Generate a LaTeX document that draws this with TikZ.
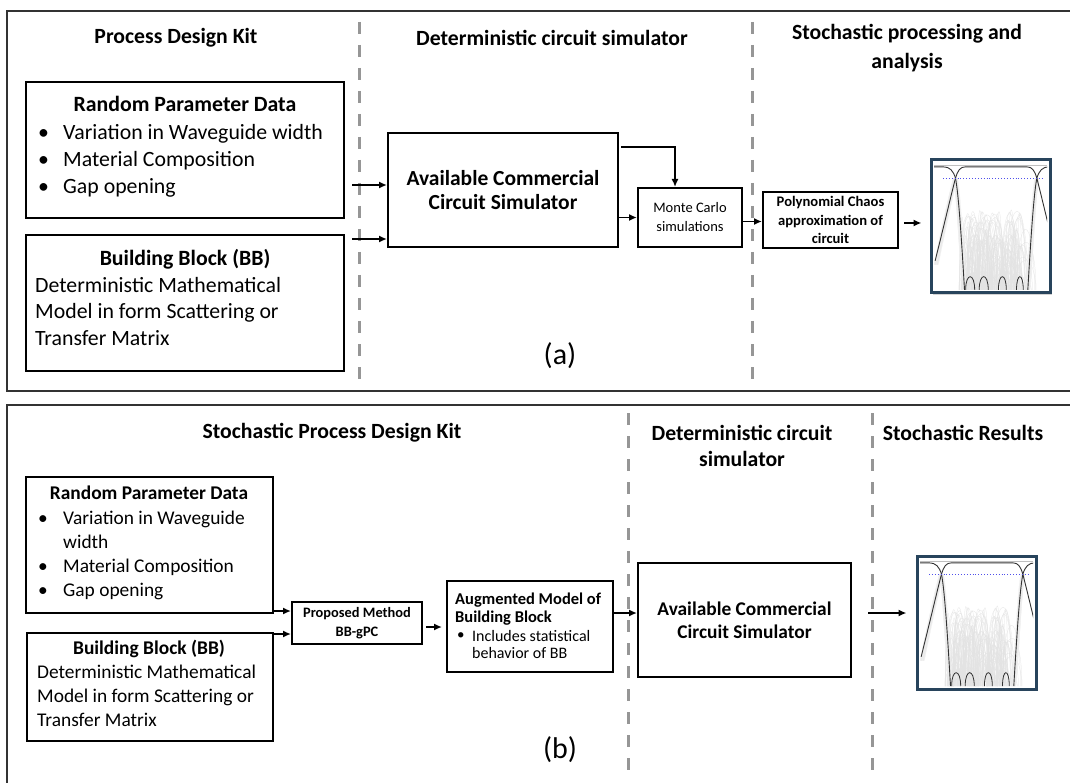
\documentclass[tikz,border=0pt]{standalone}
\usepackage{fontspec}
\setmainfont{Carlito}
\usetikzlibrary{arrows.meta}
\usetikzlibrary{calc}
\usetikzlibrary{shadows}
\tikzset{>={Latex[length=8pt,width=7pt]}}
\definecolor{dashgray}{RGB}{150,150,150}
\definecolor{plotframe}{RGB}{40,68,92}
\definecolor{cutblue}{RGB}{80,80,235}
\tikzstyle{frameline}=[draw=black!80,line width=2pt]
\tikzstyle{blk}=[draw=black,line width=2pt,inner sep=0pt,align=center]
\tikzstyle{arr}=[->,line width=1.9pt]
\tikzstyle{sepline}=[draw=dashgray,line width=3pt,dash pattern=on 12pt off 11pt]
\tikzstyle{head}=[font=\fontsize{21.7}{26}\selectfont\bfseries,align=center,inner sep=0pt]
\tikzstyle{body}=[font=\fontsize{21.8}{26}\selectfont,anchor=west,inner sep=0pt,text height=0.72em,text depth=0.22em]
\tikzstyle{bodyc}=[body,anchor=center,font=\fontsize{21.8}{26}\selectfont\bfseries]
\tikzstyle{bodyb}=[body,font=\fontsize{19.4}{24}\selectfont]
\tikzstyle{bodybc}=[body,anchor=center,font=\fontsize{19.4}{24}\selectfont\bfseries]
\tikzstyle{plotbox}=[draw=plotframe,line width=3pt,fill=white,minimum width=119pt,minimum height=133pt,
  drop shadow={shadow xshift=2pt,shadow yshift=-2pt,opacity=0.35}]
\tikzset{
  spectrum/.pic={
    \begin{scope}[x=1.13pt,y=-1.27pt]
      \clip (0,0) rectangle (100,100);
      \draw[black!25,line width=0.6pt] (0,1.5) -- (100,1.5);
      % cloud of sample curves
      \pgfmathsetseed{7}
      \foreach \i in {1,...,220}{
        \pgfmathsetmacro\xa{22+52*rnd}
        \pgfmathsetmacro\xb{\xa+3+16*rnd}
        \pgfmathsetmacro\yt{15+80*rnd}
        \draw[black!11,line width=0.25pt] (\xa,100) .. controls (\xa,\yt) and (\xb,\yt) .. (\xb,100);
      }
      \foreach \i in {1,...,20}{
        \pgfmathsetmacro\dx{4*rnd-2}
        \draw[black!8,line width=0.25pt] (2+\dx,80) .. controls (10+\dx,45) and (16+\dx,22) .. (19+\dx,12);
        \draw[black!8,line width=0.25pt] (19+\dx,12) .. controls (22+\dx,25) and (24+\dx,70) .. (27+\dx,100);
        \draw[black!8,line width=0.25pt] (91-\dx,12) .. controls (88-\dx,25) and (86-\dx,70) .. (83-\dx,100);
      }
      % nominal response
      \draw[black!80,line width=0.9pt] (1,77) .. controls (10,45) and (16,22) .. (19,12)
        .. controls (21,6) and (23,3) .. (28,3) -- (82,3)
        .. controls (87,3) and (89,6) .. (91,12) .. controls (94,22) and (100,45) .. (109,77);
      \draw[black!80,line width=0.9pt] (0,3) -- (8,3) .. controls (14,3) and (17,6) .. (19,12)
        .. controls (22,25) and (25,70) .. (27,100);
      \draw[black!80,line width=0.9pt] (100,3) -- (102,3) .. controls (96,3) and (93,6) .. (91,12)
        .. controls (88,25) and (85,70) .. (83,100);
      \foreach \a/\b in {28/36,40/48,57/64,73/79}
        \draw[black!80,line width=0.8pt] (\a,100) .. controls (\a,86) and (\b,86) .. (\b,100);
      \draw[cutblue,dotted,line width=0.9pt] (8,12) -- (97,12);
    \end{scope}
  }
}
\begin{document}
\begin{tikzpicture}[x=1pt,y=-1pt]
    \useasboundingbox (0,0) rectangle (1070,783);

    % ---------------- panel (a)
    \draw[frameline] (1070,11) -- (7,11) -- (7,391) -- (1070,391);
    \draw[sepline] (359,22) -- (359,382);
    \draw[sepline] (752,22) -- (752,382);

    \node[head] (hPdkA) at (176,38) {Process Design Kit};
    \node[head] (hSimA) at (552,38) {Deterministic circuit simulator};
    \node[head,font=\fontsize{21.7}{29}\selectfont\bfseries] (hStoA) at (907,48) {Stochastic processing and\\analysis};

    \node[blk,minimum width=318,minimum height=136] (rpdA) at (185,150) {};
    \node[bodyc] (rpdAt) at (185,109) {Random Parameter Data};
    \foreach \t [count=\k] in {Variation in Waveguide width,Material Composition,Gap opening}{
      \node[body] (rpdAb\k) at (38,110+27*\k) {\textbullet};
      \node[body] (rpdAi\k) at (63,110+27*\k) {\t};
    }

    \node[blk,minimum width=318,minimum height=136] (bbA) at (185,303) {};
    \node[bodyc] (bbAt) at (185,263) {Building Block (BB)};
    \foreach \t [count=\k] in {Deterministic Mathematical,Model in form Scattering or,Transfer Matrix}
      \node[body] (bbAi\k) at (35,263.5+26.5*\k) {\t};

    \node[blk,minimum width=230,minimum height=114,
      font=\fontsize{21.5}{24}\selectfont\bfseries] (accsA) at (503,190)
      {Available Commercial\\Circuit Simulator};
    \node[blk,minimum width=104,minimum height=59,
      font=\fontsize{14.5}{19}\selectfont] (mcA) at (690,217.5)
      {Monte Carlo\\simulations};
    \node[blk,minimum width=135,minimum height=56,
      font=\fontsize{14.6}{18.5}\selectfont\bfseries] (pcA) at (830.5,220)
      {Polynomial Chaos\\approximation of\\circuit};
    \node[plotbox] (plotA) at (990.5,226.5) {};
    \pic at (934,163) {spectrum};

    \coordinate (inA1) at (352,185);
    \coordinate (inA2) at (352,239);
    \draw[arr] (inA1) -- (accsA.west |- inA1);
    \draw[arr] (inA2) -- (accsA.west |- inA2);
    \draw[arr] ($(accsA.north east)+(2,15)$) -| ($(mcA.north)+(-15,0)$);
    \draw[arr] (accsA.east |- mcA.west) -- (mcA.west);
    \draw[arr] ($(mcA.east)+(0,4)$) -- ($(pcA.west |- mcA.east)+(0,4)$);
    \draw[arr] ($(pcA.east)+(5,3)$) -- ($(plotA.west |- pcA.east)+(-8,3)$);

    \node[font=\fontsize{30}{34}\selectfont] (capA) at (560,356) {(a)};

    % ---------------- panel (b)
    \draw[frameline] (1070,405) -- (7,405) -- (7,783);
    \draw[sepline] (628,413) -- (628,777);
    \draw[sepline] (872,413) -- (872,777);

    \node[head] (hPdkB) at (332,433) {Stochastic Process Design Kit};
    \node[head] (hSimB) at (742,446) {Deterministic circuit\\simulator};
    \node[head] (hStoB) at (963,433) {Stochastic Results};

    \node[blk,minimum width=247,minimum height=136] (rpdB) at (149.5,545) {};
    \node[bodybc] (rpdBt) at (149,497) {Random Parameter Data};
    \foreach \t/\y [count=\k] in {Variation in Waveguide/522,Material Composition/570,Gap opening/594}{
      \node[bodyb] (rpdBb\k) at (38,\y) {\textbullet};
      \node[bodyb] (rpdBi\k) at (63,\y) {\t};
    }
    \node[bodyb] (rpdBw) at (63,546) {width};

    \node[blk,minimum width=246,minimum height=108] (bbB) at (150,687) {};
    \node[bodybc] (bbBt) at (149,652) {Building Block (BB)};
    \foreach \t [count=\k] in {Deterministic Mathematical,Model in form Scattering or,Transfer Matrix}
      \node[bodyb] (bbBi\k) at (37,652+24*\k) {\t};

    \node[blk,minimum width=130,minimum height=42,
      font=\fontsize{14.4}{19}\selectfont\bfseries] (pmB) at (357,623)
      {Proposed Method\\BB-gPC};

    \node[blk,minimum width=166,minimum height=91] (amB) at (530,626.5) {};
    \node[font=\fontsize{16.5}{18}\selectfont\bfseries,anchor=west,align=left,inner sep=0pt]
      (amBt) at (455,609) {Augmented Model of\\Building Block};
    \node[font=\fontsize{15}{17}\selectfont,anchor=west,inner sep=0pt] (amBb) at (457,636) {\textbullet};
    \node[font=\fontsize{16}{17.5}\selectfont,anchor=west,align=left,inner sep=0pt]
      (amBi) at (472,644.5) {Includes statistical\\behavior of BB};

    \node[blk,minimum width=213,minimum height=114,
      font=\fontsize{19.4}{23}\selectfont\bfseries] (accsB) at (744.5,620)
      {Available Commercial\\Circuit Simulator};
    \node[plotbox] (plotB) at (976.5,622.5) {};
    \pic at (920,559) {spectrum};

    \draw[arr] (rpdB.east |- 0,611) -- (pmB.west |- 0,611);
    \draw[arr] (bbB.east |- 0,634) -- (pmB.west |- 0,634);
    \draw[arr] ($(pmB.east)+(3,4)$) -- ($(amB.west |- pmB.east)+(-4,4)$);
    \draw[arr] (amB.east |- 0,613) -- (accsB.west |- 0,613);
    \draw[arr] ($(accsB.east |- 0,613)+(16,0)$) -- ($(plotB.west |- 0,613)+(-9,0)$);

    \node[font=\fontsize{30}{34}\selectfont] (capB) at (560,750) {(b)};
\end{tikzpicture}
\end{document}
